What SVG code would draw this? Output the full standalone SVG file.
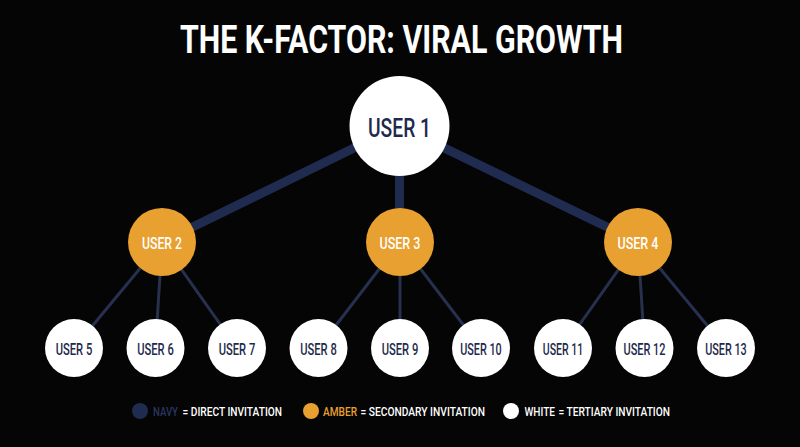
<svg xmlns="http://www.w3.org/2000/svg" width="800" height="447" viewBox="0 0 800 447">
<style>
.bg{fill:#050505}
.title{font-family:Roboto,"Liberation Sans",sans-serif;font-weight:700;font-size:39px;fill:#ffffff}
.thick{stroke:#1f2c50;stroke-width:9;stroke-linecap:butt}
.thin{stroke:#27314f;stroke-width:3}
.root{fill:#ffffff}
.amber{fill:#e8a030}
.white{fill:#ffffff}
.lbl{font-family:Roboto,"Liberation Sans",sans-serif;font-weight:500;text-anchor:middle}
.lroot{font-size:26px;fill:#1e2a4c}
.lamb{font-size:17px;fill:#ffffff}
.lwht{font-size:16px;fill:#1e2a4c}
.leg{font-family:Roboto,"Liberation Sans",sans-serif;font-weight:500;font-size:12px;fill:#ffffff}
</style>
<rect class="bg" x="0" y="0" width="800" height="447"/>
<text class="title" x="180" y="53" textLength="443" lengthAdjust="spacingAndGlyphs">THE K-FACTOR: VIRAL GROWTH</text>
<g id="connectors">
<line class="thick" x1="399" y1="126" x2="162" y2="242"/>
<line class="thick" x1="399.5" y1="126" x2="399.5" y2="242"/>
<line class="thick" x1="399" y1="126" x2="638" y2="242"/>
<line class="thin" x1="162" y1="242" x2="74" y2="348"/>
<line class="thin" x1="162" y1="242" x2="155.5" y2="348"/>
<line class="thin" x1="162" y1="242" x2="237" y2="348"/>
<line class="thin" x1="400" y1="242" x2="318.5" y2="348"/>
<line class="thin" x1="400" y1="242" x2="400" y2="348"/>
<line class="thin" x1="400" y1="242" x2="481" y2="348"/>
<line class="thin" x1="638" y1="242" x2="563" y2="348"/>
<line class="thin" x1="638" y1="242" x2="644.5" y2="348"/>
<line class="thin" x1="638" y1="242" x2="726" y2="348"/>
</g>
<g id="user1"><circle class="root" cx="399.5" cy="126" r="50"/><text class="lbl lroot" x="399.5" y="136.7" textLength="63" lengthAdjust="spacingAndGlyphs">USER 1</text></g>
<g id="user2"><circle class="amber" cx="162" cy="242" r="34"/><text class="lbl lamb" x="162" y="249" textLength="40" lengthAdjust="spacingAndGlyphs">USER 2</text></g>
<g id="user3"><circle class="amber" cx="400" cy="242" r="34"/><text class="lbl lamb" x="400" y="249" textLength="41" lengthAdjust="spacingAndGlyphs">USER 3</text></g>
<g id="user4"><circle class="amber" cx="638" cy="242" r="34"/><text class="lbl lamb" x="638" y="249" textLength="41" lengthAdjust="spacingAndGlyphs">USER 4</text></g>
<g id="user5"><circle class="white" cx="74" cy="348" r="29"/><text class="lbl lwht" x="74" y="354.5" textLength="36.5" lengthAdjust="spacingAndGlyphs">USER 5</text></g>
<g id="user6"><circle class="white" cx="155.5" cy="348" r="29"/><text class="lbl lwht" x="155.5" y="354.5" textLength="36.5" lengthAdjust="spacingAndGlyphs">USER 6</text></g>
<g id="user7"><circle class="white" cx="237" cy="348" r="29"/><text class="lbl lwht" x="237" y="354.5" textLength="36.5" lengthAdjust="spacingAndGlyphs">USER 7</text></g>
<g id="user8"><circle class="white" cx="318.5" cy="348" r="29"/><text class="lbl lwht" x="318.5" y="354.5" textLength="36.5" lengthAdjust="spacingAndGlyphs">USER 8</text></g>
<g id="user9"><circle class="white" cx="400" cy="348" r="29"/><text class="lbl lwht" x="400" y="354.5" textLength="36.5" lengthAdjust="spacingAndGlyphs">USER 9</text></g>
<g id="user10"><circle class="white" cx="481" cy="348" r="29"/><text class="lbl lwht" x="481" y="354.5" textLength="41.5" lengthAdjust="spacingAndGlyphs">USER 10</text></g>
<g id="user11"><circle class="white" cx="563" cy="348" r="29"/><text class="lbl lwht" x="563" y="354.5" textLength="40.5" lengthAdjust="spacingAndGlyphs">USER 11</text></g>
<g id="user12"><circle class="white" cx="644.5" cy="348" r="29"/><text class="lbl lwht" x="644.5" y="354.5" textLength="42" lengthAdjust="spacingAndGlyphs">USER 12</text></g>
<g id="user13"><circle class="white" cx="726" cy="348" r="29"/><text class="lbl lwht" x="726" y="354.5" textLength="41.5" lengthAdjust="spacingAndGlyphs">USER 13</text></g>
<g id="legend">
<circle cx="140" cy="411" r="8" fill="#1f2c50"/>
<text class="leg" x="153" y="416" textLength="25" lengthAdjust="spacingAndGlyphs" style="fill:#2a3760">NAVY</text>
<text class="leg" x="182.5" y="416" textLength="99.5" lengthAdjust="spacingAndGlyphs">= DIRECT INVITATION</text>
<circle cx="311" cy="411" r="8" fill="#e8a030"/>
<text class="leg" x="323" y="416" textLength="34" lengthAdjust="spacingAndGlyphs" style="fill:#e8a030">AMBER</text>
<text class="leg" x="360.5" y="416" textLength="124.5" lengthAdjust="spacingAndGlyphs">= SECONDARY INVITATION</text>
<circle cx="511" cy="411" r="8" fill="#ffffff"/>
<text class="leg" x="524.5" y="416" textLength="30.5" lengthAdjust="spacingAndGlyphs">WHITE</text>
<text class="leg" x="558.5" y="416" textLength="111.5" lengthAdjust="spacingAndGlyphs">= TERTIARY INVITATION</text>
</g>
</svg>
